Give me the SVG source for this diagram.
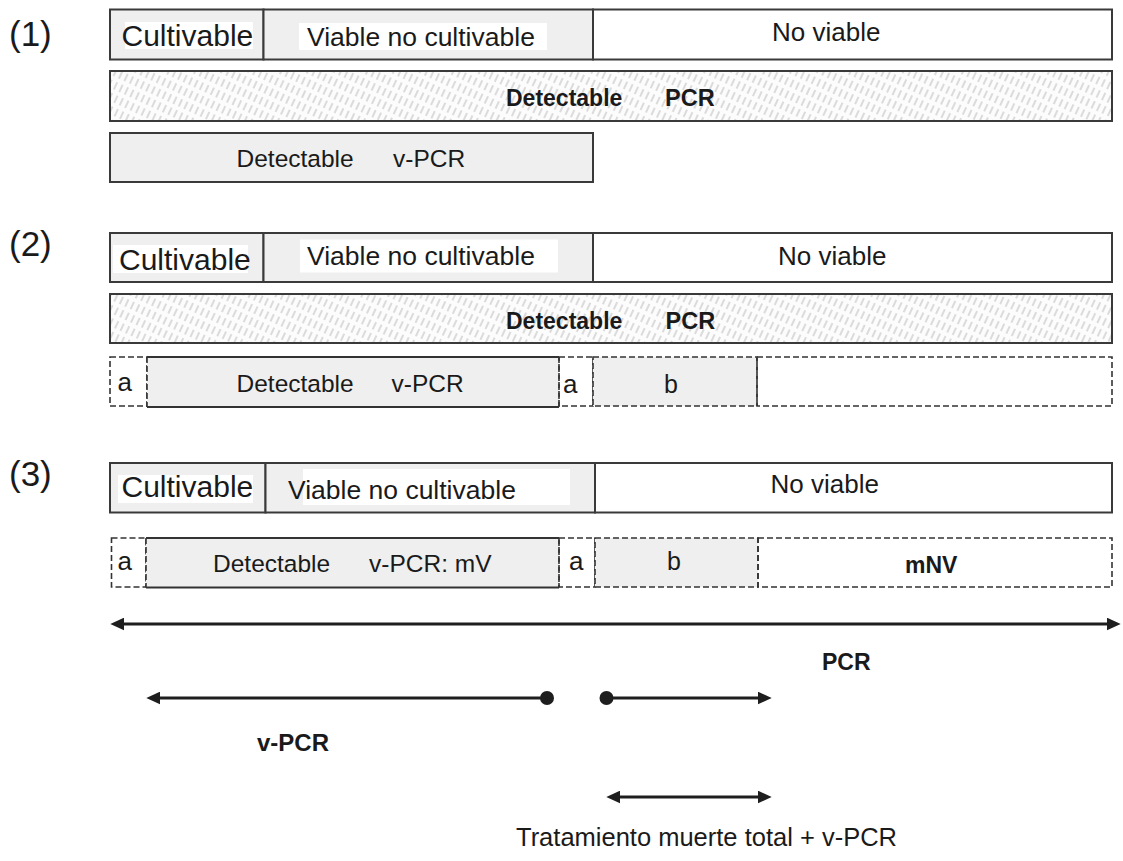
<svg xmlns="http://www.w3.org/2000/svg" width="1123" height="861" viewBox="0 0 1123 861">
<style>
.t{font-family:"Liberation Sans",Arial,Helvetica,sans-serif;fill:#1a1a1a}
.b{font-weight:bold}
.box{fill:none;stroke:#3a3a3a;stroke-width:2}
.dash{fill:none;stroke:#333;stroke-width:1.6;stroke-dasharray:6 3}
.grey{fill:#eeefee}
.wbg{fill:#ffffff}
.conn{stroke:#1e1e1e;stroke-width:3;fill:none}
</style>
<defs>
<pattern id="hatch" width="6" height="12" patternUnits="userSpaceOnUse" patternTransform="rotate(25)">
<rect width="6" height="12" fill="#fcfcfc"/>
<line x1="3" y1="1" x2="3" y2="9" stroke="#c6c6c6" stroke-width="1.2"/>
</pattern>
<marker id="arrow" markerUnits="userSpaceOnUse" markerWidth="14" markerHeight="13" refX="4" refY="6" orient="auto-start-reverse" viewBox="0 0 13 12">
<path d="M0,0 L13,6 L0,12 z" fill="#1e1e1e"/>
</marker>
<marker id="dot" markerUnits="userSpaceOnUse" markerWidth="16" markerHeight="16" refX="8" refY="8" viewBox="0 0 16 16">
<circle cx="8" cy="8" r="7" fill="#1e1e1e"/>
</marker>
</defs>
<rect width="1123" height="861" fill="#ffffff"/>

<g id="labels">
<text class="t" x="9" y="46" font-size="35">(1)</text>
<text class="t" x="9" y="256" font-size="35">(2)</text>
<text class="t" x="9" y="486" font-size="35">(3)</text>
</g>

<!-- Row 1 -->
<g id="r1-cultivable">
<rect class="grey" x="110" y="9.5" width="153.5" height="50"/>
<rect class="wbg" x="125" y="22" width="128" height="27"/>
<rect class="box" x="110" y="9.5" width="153.5" height="50"/>
<text class="t" x="121.5" y="46" font-size="30">Cultivable</text>
</g>
<g id="r1-vnc">
<rect class="grey" x="263.5" y="9.5" width="329.5" height="50"/>
<rect class="wbg" x="299" y="23" width="248" height="27"/>
<rect class="box" x="263.5" y="9.5" width="329.5" height="50"/>
<text class="t" x="307" y="45.5" font-size="26.5">Viable no cultivable</text>
</g>
<g id="r1-noviable">
<rect class="box" x="593" y="9.5" width="519" height="50" fill="#ffffff"/>
<text class="t" x="772" y="40.5" font-size="26">No viable</text>
</g>
<g id="r1-pcr">
<rect x="110" y="71" width="1002" height="50" fill="url(#hatch)"/>
<rect class="box" x="110" y="71" width="1002" height="50"/>
<text class="t b" x="506" y="106" font-size="23">Detectable</text>
<text class="t b" x="665" y="106" font-size="23.5">PCR</text>
</g>
<g id="r1-vpcr">
<rect class="grey" x="110" y="133" width="483" height="49"/>
<rect class="box" x="110" y="133" width="483" height="49"/>
<text class="t" x="236.5" y="166.5" font-size="24.5">Detectable</text>
<text class="t" x="393" y="166.5" font-size="24.5">v-PCR</text>
</g>

<!-- Row 2 -->
<g id="r2-cultivable">
<rect class="grey" x="110" y="233" width="153.5" height="49"/>
<rect class="wbg" x="113" y="245" width="135" height="28"/>
<rect class="box" x="110" y="233" width="153.5" height="49"/>
<text class="t" x="119" y="269.5" font-size="30">Cultivable</text>
</g>
<g id="r2-vnc">
<rect class="grey" x="263.5" y="233" width="329.5" height="49"/>
<rect class="wbg" x="300" y="239.5" width="258" height="33"/>
<rect class="box" x="263.5" y="233" width="329.5" height="49"/>
<text class="t" x="307" y="265" font-size="26.5">Viable no cultivable</text>
</g>
<g id="r2-noviable">
<rect class="box" x="593" y="233" width="519" height="49" fill="#ffffff"/>
<text class="t" x="778" y="265" font-size="26">No viable</text>
</g>
<g id="r2-pcr">
<rect x="110" y="294" width="1002" height="49" fill="url(#hatch)"/>
<rect class="box" x="110" y="294" width="1002" height="49"/>
<text class="t b" x="506" y="328.5" font-size="23">Detectable</text>
<text class="t b" x="665.5" y="328.5" font-size="23.5">PCR</text>
</g>
<g id="r2-a1">
<rect class="dash" x="110" y="357" width="37" height="49"/>
<text class="t" x="117.5" y="391" font-size="26">a</text>
</g>
<g id="r2-vpcr">
<rect class="grey" x="147" y="357" width="412" height="50"/>
<line x1="147" y1="357" x2="559" y2="357" stroke="#333" stroke-width="1.8"/>
<line x1="147" y1="407" x2="559" y2="407" stroke="#333" stroke-width="1.8"/>
<line class="dash" x1="147" y1="357" x2="147" y2="407"/>
<line class="dash" x1="559" y1="357" x2="559" y2="407"/>
<text class="t" x="236.5" y="391.5" font-size="24.5">Detectable</text>
<text class="t" x="391.5" y="391.5" font-size="24.5">v-PCR</text>
</g>
<g id="r2-a2">
<rect class="dash" x="559" y="357" width="34" height="49"/>
<text class="t" x="563" y="393" font-size="26">a</text>
</g>
<g id="r2-b">
<rect class="grey" x="593" y="357" width="164" height="49"/>
<rect class="dash" x="593" y="357" width="164" height="49"/>
<text class="t" x="664" y="393" font-size="25">b</text>
</g>
<g id="r2-rest">
<rect class="dash" x="757" y="357" width="355" height="49"/>
</g>

<!-- Row 3 -->
<g id="r3-cultivable">
<rect class="grey" x="110" y="463" width="155.5" height="49.5"/>
<rect class="wbg" x="118" y="475" width="135" height="28"/>
<rect class="box" x="110" y="463" width="155.5" height="49.5"/>
<text class="t" x="121.5" y="496.5" font-size="30">Cultivable</text>
</g>
<g id="r3-vnc">
<rect class="grey" x="265.5" y="463" width="329.5" height="49.5"/>
<rect class="wbg" x="303" y="469" width="267" height="36"/>
<rect class="box" x="265.5" y="463" width="329.5" height="49.5"/>
<text class="t" x="288" y="499" font-size="26.5">Viable no cultivable</text>
</g>
<g id="r3-noviable">
<rect class="box" x="595" y="463" width="517" height="49.5" fill="#ffffff"/>
<text class="t" x="770.5" y="492.5" font-size="26">No viable</text>
</g>
<g id="r3-a1">
<rect class="dash" x="111.5" y="538" width="34.5" height="49"/>
<text class="t" x="117.5" y="570" font-size="26">a</text>
</g>
<g id="r3-mv">
<rect class="grey" x="146" y="538" width="413" height="49.5"/>
<line x1="146" y1="538" x2="559" y2="538" stroke="#333" stroke-width="1.8"/>
<line x1="146" y1="587.5" x2="559" y2="587.5" stroke="#333" stroke-width="1.8"/>
<line class="dash" x1="146" y1="538" x2="146" y2="587.5"/>
<line class="dash" x1="559" y1="538" x2="559" y2="587.5"/>
<text class="t" x="213" y="572" font-size="24.5">Detectable</text>
<text class="t" x="369" y="572" font-size="24.5">v-PCR: mV</text>
</g>
<g id="r3-a2">
<rect class="dash" x="559" y="538" width="36" height="49"/>
<text class="t" x="569" y="570" font-size="26">a</text>
</g>
<g id="r3-b">
<rect class="grey" x="595" y="538" width="163" height="49"/>
<rect class="dash" x="595" y="538" width="163" height="49"/>
<text class="t" x="667" y="570" font-size="25">b</text>
</g>
<g id="r3-mnv">
<rect class="dash" x="758" y="538" width="354" height="49"/>
<text class="t b" x="905" y="572.5" font-size="23">mNV</text>
</g>

<!-- Connectors -->
<g id="connectors">
<path class="conn" d="M120,624 L1111,624" marker-start="url(#arrow)" marker-end="url(#arrow)"/>
<path class="conn" d="M547,698 L156,698" marker-start="url(#dot)" marker-end="url(#arrow)"/>
<path class="conn" d="M606.5,698 L762,698" marker-start="url(#dot)" marker-end="url(#arrow)"/>
<path class="conn" d="M616,797 L762,797" marker-start="url(#arrow)" marker-end="url(#arrow)"/>
</g>

<g id="axis-labels">
<text class="t b" x="822" y="670" font-size="23">PCR</text>
<text class="t b" x="257" y="751" font-size="24">v-PCR</text>
<text class="t" x="516" y="846" font-size="25.5">Tratamiento muerte total + v-PCR</text>
</g>
</svg>
